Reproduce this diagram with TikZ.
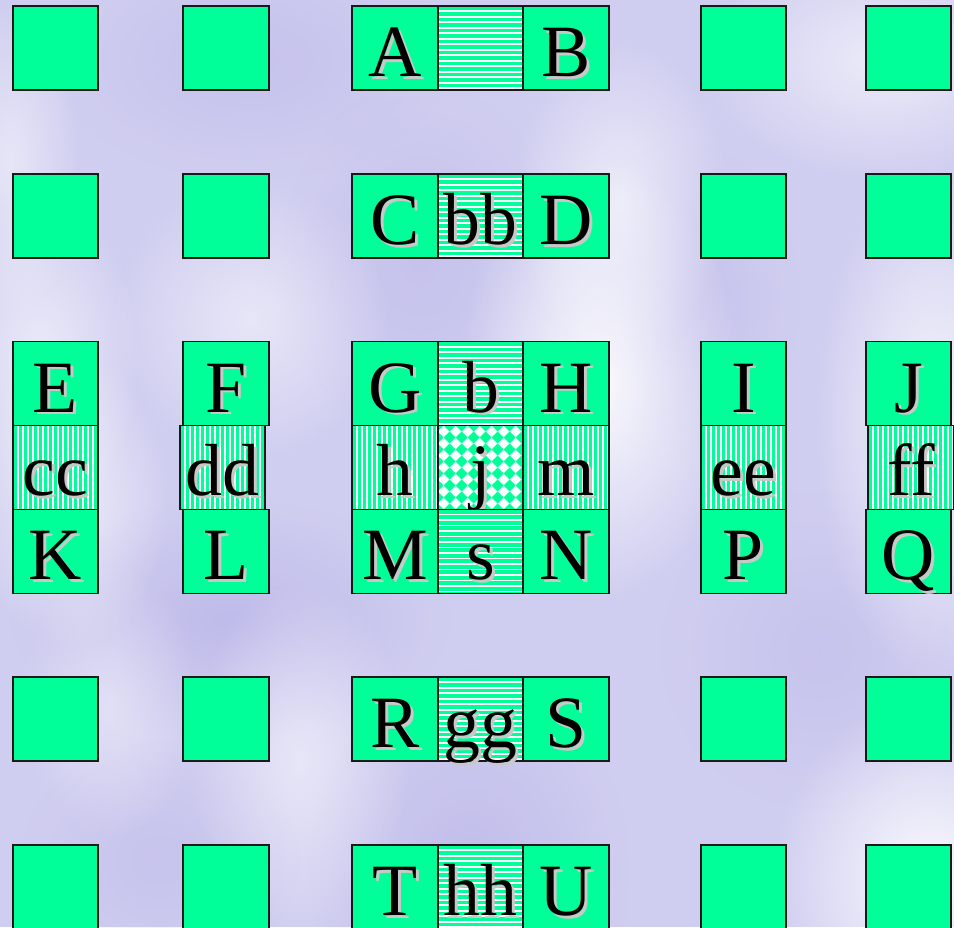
\documentclass[tikz,border=0pt]{standalone}
\usepackage{fontspec}
\setmainfont{Liberation Serif}
\usetikzlibrary{positioning, calc, fadings}

\definecolor{mint}{RGB}{0,255,153}
\definecolor{lavender}{RGB}{208,206,240}
\definecolor{deeplav}{RGB}{178,172,230}
\definecolor{shadowgrey}{RGB}{200,200,200}
\tikzfading[name=softblob, inner color=transparent!0, outer color=transparent!100]

% letter with a light drop shadow
\newcommand{\shdw}[1]{\rlap{\kern1.7pt\raisebox{-1.7pt}{\color{shadowgrey}#1}}#1}

\begin{document}
\begin{tikzpicture}[
    x=0.02cm, y=-0.02cm,
    cell/.style={draw=black!90, line width=1.1pt, inner sep=0pt, outer sep=0pt,
                 minimum width=1.71cm, text height=1.41cm, text depth=0.27cm,
                 font=\fontsize{42}{42}\selectfont},
    solid/.style={cell, fill=mint},
    hstripes/.style={cell, fill=white, path picture={
        \foreach \k in {0,...,16}
          \fill[mint] ($(path picture bounding box.north west)+(0,\k*5.5+0.5)$) rectangle +(92,3.6);}},
    vstripes/.style={cell, fill=white, path picture={
        \foreach \k in {0,...,18}
          \fill[mint] ($(path picture bounding box.north west)+(\k*5+1,0)$) rectangle +(3,90);}},
    diamonds/.style={cell, fill=white, path picture={
        \foreach \i in {0,...,8}
          \foreach \k in {0,...,8}
            \fill[mint] ($(path picture bounding box.north west)+(\i*12,\k*12)$)
              +(-6,0) -- +(0,6) -- +(6,0) -- +(0,-6) -- cycle;}}
]
    \useasboundingbox (0,0) rectangle (954,927);

    % backdrop
    \fill[lavender] (0,0) rectangle (954,927);
    \foreach \bx/\by/\ra/\rb/\op in {230/620/220/120/.55, 470/870/160/200/.5, 680/300/120/160/.35,
        420/260/140/180/.35, 250/60/200/120/.35, 820/650/160/160/.3, 160/860/140/120/.3}
      \fill[deeplav, opacity=\op, path fading=softblob] (\bx,\by) ellipse [x radius=\ra, y radius=\rb];
    \foreach \bx/\by/\ra/\rb/\op in {10/160/70/160/.5, 40/360/100/170/.6, 70/500/100/150/.6,
        600/380/140/220/.9, 620/200/110/160/.6, 935/420/120/260/.8, 930/880/160/180/.9,
        880/60/180/120/.6, 250/320/140/140/.5, 300/760/110/180/.5, 110/700/90/140/.4}
      \fill[white, opacity=\op, path fading=softblob] (\bx,\by) ellipse [x radius=\ra, y radius=\rb];

    % plain squares
    \foreach \cx/\cn in {55.5/1, 226/2, 743.5/6, 908.5/7}
      \foreach \cy/\rn in {48/1, 216/2, 719/6, 887/7}
        \node[solid] (sq-\rn-\cn) at (\cx,\cy) {};

    % centre column
    \node[solid] (A) at (395,48) {\shdw{A}};
    \node[hstripes, right=0pt of A] (ab) {};
    \node[solid, right=0pt of ab] (B) {\shdw{B}};

    \node[solid] (C) at (395,216) {\shdw{C}};
    \node[hstripes, right=0pt of C] (bb) {\shdw{bb}};
    \node[solid, right=0pt of bb] (D) {\shdw{D}};

    \node[solid] (G) at (395,383.5) {\shdw{G}};
    \node[hstripes, right=0pt of G] (b) {\shdw{b}};
    \node[solid, right=0pt of b] (H) {\shdw{H}};
    \node[vstripes, below=0pt of G] (h) {\shdw{h}};
    \node[diamonds, below=0pt of b] (j) {\shdw{j}};
    \node[vstripes, below=0pt of H] (m) {\shdw{m}};
    \node[solid, below=0pt of h] (M) {\shdw{M}};
    \node[hstripes, below=0pt of j] (s) {\shdw{s}};
    \node[solid, below=0pt of m] (N) {\shdw{N}};

    \node[solid] (R) at (395,719) {\shdw{R}};
    \node[hstripes, right=0pt of R] (gg) {\shdw{gg}};
    \node[solid, right=0pt of gg] (S) {\shdw{S}};

    \node[solid] (T) at (395,887) {\shdw{T}};
    \node[hstripes, right=0pt of T] (hh) {\shdw{hh}};
    \node[solid, right=0pt of hh] (U) {\shdw{U}};

    % side columns
    \node[solid] (E) at (55.5,383.5) {\shdw{E}};
    \node[vstripes, below=0pt of E] (cc) {\shdw{cc}};
    \node[solid, below=0pt of cc] (K) {\shdw{K}};

    \node[solid] (F) at (226,383.5) {\shdw{F}};
    \node[vstripes, below=0pt of F, xshift=-2pt] (dd) {\shdw{dd}};
    \node[solid, below=0pt of F, yshift=-1.68cm] (L) {\shdw{L}};

    \node[solid] (I) at (743.5,383.5) {\shdw{I}};
    \node[vstripes, below=0pt of I] (ee) {\shdw{ee}};
    \node[solid, below=0pt of ee] (P) {\shdw{P}};

    \node[solid] (J) at (908.5,383.5) {\shdw{J}};
    \node[vstripes, below=0pt of J, xshift=1.5pt] (ff) {\shdw{ff}};
    \node[solid, below=0pt of J, yshift=-1.68cm] (Q) {\shdw{Q}};
\end{tikzpicture}
\end{document}
